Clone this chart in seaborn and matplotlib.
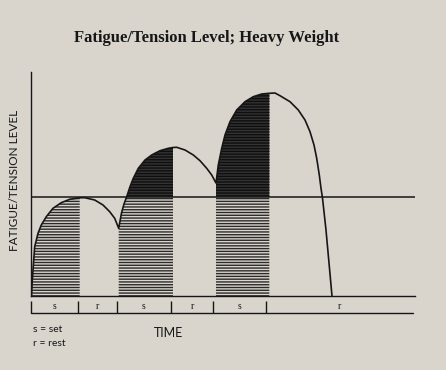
import numpy as np
import pandas as pd
import seaborn as sns
import matplotlib.pyplot as plt

# curve: time (x) vs fatigue/tension level (y)
time = [0.5, 1, 2, 3.7, 7, 10.3, 15.3, 22, 30.3, 38.7, 47, 48.7,        # set 1
        53.7, 63.7, 72, 78.7, 83.7, 87.7,                                # rest 1
        90.5, 93, 95.7, 99, 102.3, 107.3, 114, 120.7, 129, 137.3, 142,   # set 2
        145.7, 154, 162.3, 169, 175.7, 180.7, 185,                       # rest 2
        187.3, 190.7, 194, 199, 205.7, 214, 222.3, 230.7, 238.3,         # set 3
        244, 249, 259, 267.3, 274, 279, 283, 285.7, 288.3, 290, 291.5,
        295, 298, 301]                                                   # rest 3
level = [0, 11, 26, 49.3, 62.7, 71, 79.3, 87.7, 93.3, 96.7, 98, 98.2,
         98.3, 96, 91, 84.3, 77.7, 67.7,
         83, 92, 99.3, 109.3, 117.7, 127.7, 136, 141, 145.3, 147.7, 148.5,
         148.7, 146, 141, 135.3, 127.7, 121, 113,
         131, 147.7, 161, 174.3, 186, 194.3, 199.3, 202, 202.7,
         203, 200.3, 194.3, 186, 176, 164.3, 151, 137.7, 121, 107.7, 98,
         66, 33, 0]

threshold = 99
set_spans = [(0, 48.7), (87.7, 142), (185, 238.3)]
band_ticks = [0, 47, 86, 140, 182, 235, 382]
band_labels = ["s", "r", "s", "r", "s", "r"]

paper = "#d9d5cd"
ink = "#161616"

sns.set_style("white")
plt.rcParams["hatch.linewidth"] = 1.0
plt.rcParams["font.family"] = ["Lato", "DejaVu Sans"]

df = pd.DataFrame({"time": time, "level": level})

fig = plt.figure(figsize=(4.46, 3.70), dpi=100, facecolor=paper)
ax = fig.add_axes([31 / 446, 74 / 370, 384 / 446, 224 / 370])
ax.set_facecolor(paper)

# hatched set areas: grey stripes under the line, near-black above it
for a, b in set_spans:
    seg = df[(df.time >= a) & (df.time <= b)]
    ax.fill_between(seg.time, 0, seg.level, facecolor=paper, edgecolor="#2a2a2a",
                    hatch="------", linewidth=0)
    ax.fill_between(seg.time, threshold, seg.level, where=seg.level >= threshold,
                    interpolate=True, facecolor="#333333", edgecolor="#0e0e0e",
                    hatch="------", linewidth=0)

sns.lineplot(data=df, x="time", y="level", sort=False, estimator=None,
             color=ink, linewidth=1.2, ax=ax)
ax.axhline(threshold, color=ink, linewidth=1.1)

ax.set_xlim(0, 384)
ax.set_ylim(0, 224)
ax.set_xticks([])
ax.set_yticks([])
ax.set_xlabel("")
ax.set_ylabel("")
for side in ["top", "right"]:
    ax.spines[side].set_visible(False)
for side in ["left", "bottom"]:
    ax.spines[side].set_color(ink)
    ax.spines[side].set_linewidth(1.0)

# set / rest band under the time axis
ax.plot([band_ticks[0], band_ticks[-1]], [-17, -17], color=ink, lw=1.0, clip_on=False)
ax.vlines(band_ticks[:-1], -17, -5, color=ink, lw=1.0, clip_on=False)
for i, lab in enumerate(band_labels):
    mid = (band_ticks[i] + band_ticks[i + 1]) / 2
    ax.text(mid, -10.5, lab, ha="center", va="center", fontsize=7,
            family="Liberation Serif", color=ink, clip_on=False)

fig.text(207 / 446, 1 - 38 / 370, "Fatigue/Tension Level; Heavy Weight",
         ha="center", va="center", fontsize=12, fontweight="bold",
         family="Liberation Serif", color=ink)
fig.text(15 / 446, 1 - 180 / 370, "FATIGUE/TENSION LEVEL", rotation=90,
         ha="center", va="center", fontsize=8.5, color=ink)
fig.text(168 / 446, 1 - 333 / 370, "TIME", ha="center", va="center",
         fontsize=9, color=ink)
fig.text(33 / 446, 1 - 329 / 370, "s = set", ha="left", va="center",
         fontsize=7.5, color=ink)
fig.text(33 / 446, 1 - 343 / 370, "r = rest", ha="left", va="center",
         fontsize=7.5, color=ink)

fig.savefig("out.png", dpi=100, facecolor=paper)
